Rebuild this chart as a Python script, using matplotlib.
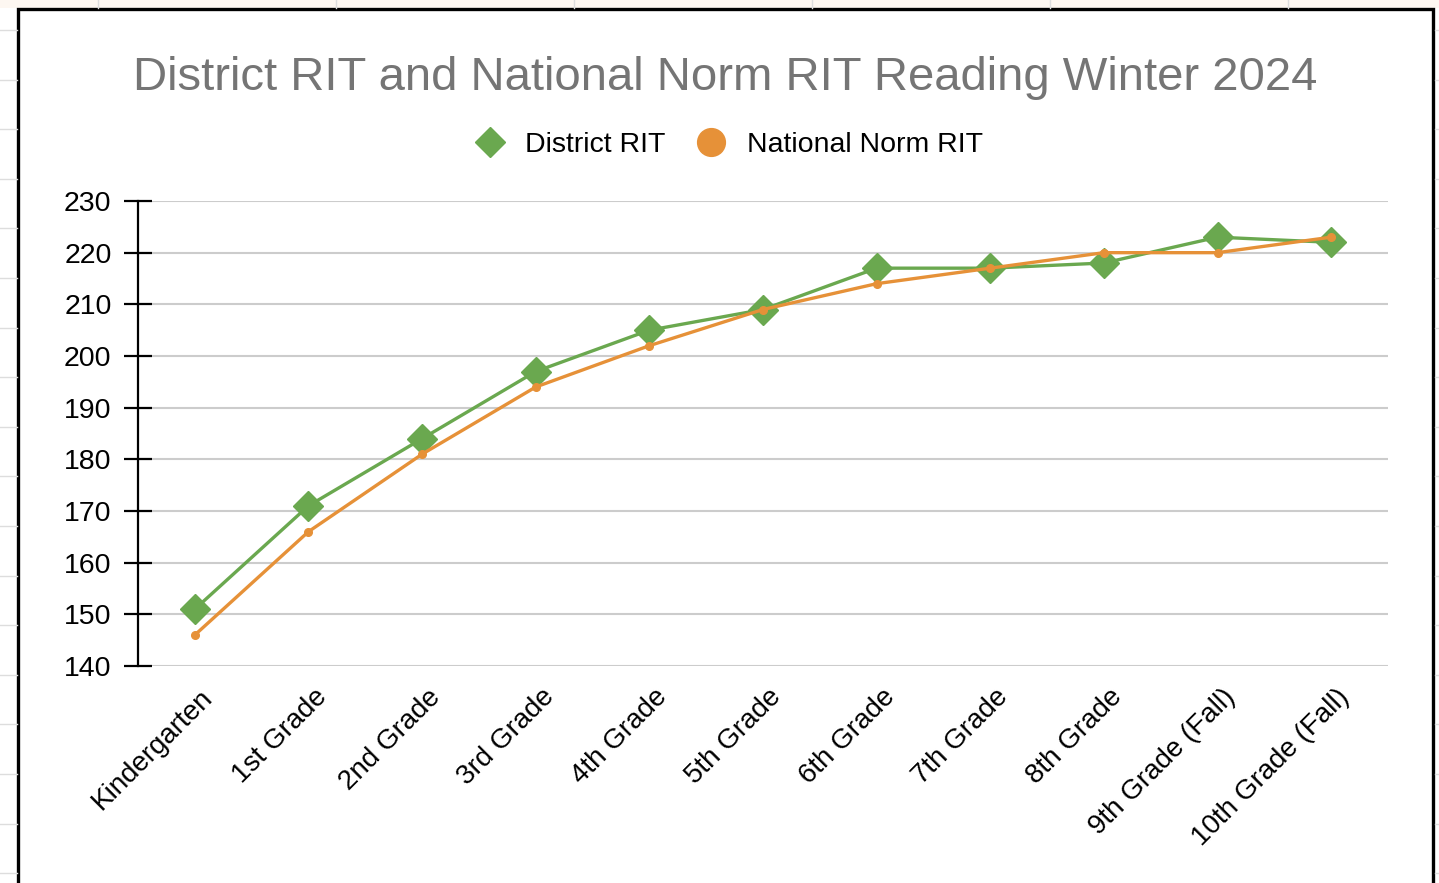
import matplotlib.pyplot as plt
from matplotlib.lines import Line2D
from matplotlib.patches import Rectangle
from matplotlib.transforms import ScaledTranslation

grades = ['Kindergarten', '1st Grade', '2nd Grade', '3rd Grade', '4th Grade',
          '5th Grade', '6th Grade', '7th Grade', '8th Grade',
          '9th Grade (Fall)', '10th Grade (Fall)']
district_rit = [151, 171, 184, 197, 205, 209, 217, 217, 218, 223, 222]
national_rit = [146, 166, 181, 194, 202, 209, 214, 217, 220, 220, 223]
y_ticks = [140, 150, 160, 170, 180, 190, 200, 210, 220, 230]

green = '#6aa84f'
orange = '#e69138'
W, H = 1439, 883

plt.rcParams['font.family'] = ['Liberation Sans', 'DejaVu Sans']

fig = plt.figure(figsize=(W / 100, H / 100), dpi=100)
fig.patch.set_facecolor('white')

# spreadsheet cells behind the chart
for x in [98, 336, 574, 812, 1050, 1288]:
    fig.add_artist(Line2D([x / W, x / W], [1, 1 - 8 / H], color='#dddddd', lw=1))
y = 30
while y < H:
    for xs in ([0, 17 / W], [1435 / W, 1]):
        fig.add_artist(Line2D(xs, [1 - y / H, 1 - y / H], color='#dddddd', lw=1))
    y += 49.6
fig.add_artist(Rectangle((0, 1 - 8 / H), 1, 8 / H, facecolor='#fdf7f1',
                         edgecolor='none', zorder=-1))
# chart frame
fig.add_artist(Rectangle((18 / W, -0.05), 1415 / W, 1.05 - 9 / H, fill=False,
                         edgecolor='black', lw=2.4))

ax = fig.add_axes([138 / W, 1 - 666 / H, 1250 / W, 465 / H])
x = range(len(grades))
ax.plot(x, district_rit, color=green, lw=2.4, marker='D', ms=15,
        zorder=3)
ax.plot(x, national_rit, color=orange, lw=2.4, marker='o', ms=5.5,
        zorder=4)

ax.set_xlim(-0.5, len(grades) - 0.5)
ax.set_ylim(140, 230)
ax.set_yticks(y_ticks)
ax.yaxis.grid(True, color='#cccccc', lw=1.5)
ax.set_axisbelow(True)
for s in ['top', 'right', 'bottom']:
    ax.spines[s].set_visible(False)
ax.spines['left'].set_linewidth(1.6)
ax.tick_params(axis='y', direction='inout', length=20, width=1.6,
               labelsize=20.5, pad=9)
ax.tick_params(axis='x', length=0, pad=13)
ax.set_xticks(list(x))
ax.set_xticklabels(grades, rotation=45, ha='right', va='top',
                   rotation_mode='anchor', fontsize=20)
for lbl in ax.get_xticklabels():
    lbl.set_transform(lbl.get_transform() +
                      ScaledTranslation(0.05, 0, fig.dpi_scale_trans))

fig.text(725 / W, 1 - 78 / H, 'District RIT and National Norm RIT Reading Winter 2024',
         ha='center', va='center', fontsize=34, color='#757575')

handles = [Line2D([], [], color=green, marker='D', ls='none', ms=15),
           Line2D([], [], color=orange, marker='o', ls='none', ms=20)]
fig.legend(handles, ['District RIT', 'National Norm RIT'], loc='center',
           bbox_to_anchor=(722 / W, 1 - 145 / H), ncol=2, frameon=False,
           fontsize=20.5, handletextpad=0.25, columnspacing=0.6)

fig.savefig('out.png', dpi=100)
